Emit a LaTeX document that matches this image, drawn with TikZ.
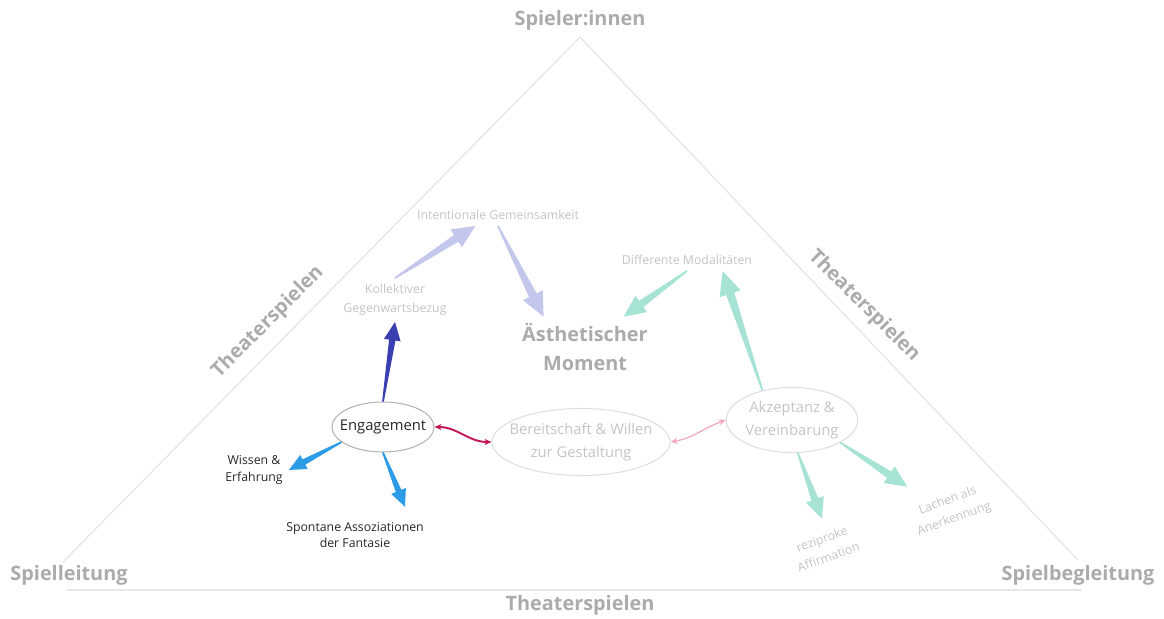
\documentclass[tikz,border=0pt]{standalone}
\usepackage{fontspec}
\setmainfont{Open Sans}
\usetikzlibrary{calc,shapes.geometric,arrows.meta}

\definecolor{labelgray}{HTML}{ABABAB}
\definecolor{softgray}{HTML}{C4C4C4}
\definecolor{linegray}{HTML}{DEDEDE}
\definecolor{darkblue}{HTML}{3A40B2}
\definecolor{lavender}{HTML}{C4C7EC}
\definecolor{skyblue}{HTML}{2D9CE6}
\definecolor{mint}{HTML}{A6E3D5}
\definecolor{crimson}{HTML}{C2185B}
\definecolor{rosa}{HTML}{F2A7BE}

% breiter Pfeil: Farbe, von, nach, Groesse
\newcommand{\fatarrow}[4]{%
  \coordinate (neck) at ($(#3)!13pt*#4!(#2)$);
  \fill[#1] ($(#2)!0.5pt!90:(#3)$) -- ($(neck)!2.3pt*#4!90:(#3)$)
    -- ($(neck)!6pt*#4!90:(#3)$) -- (#3)
    -- ($(neck)!6pt*#4!-90:(#3)$) -- ($(neck)!2.3pt*#4!-90:(#3)$)
    -- ($(#2)!0.5pt!-90:(#3)$) -- cycle;}

\begin{document}
\begin{tikzpicture}[x=0.02cm,y=-0.02cm,
  corner/.style={font=\bfseries\fontsize{11.3}{14}\selectfont,text=labelgray},
  note/.style={font=\fontsize{7}{11}\selectfont,text=softgray,align=center},
  dark/.style={font=\fontsize{7}{9.6}\selectfont,text=black!85,align=center},
  bubble/.style={ellipse,draw=linegray,line width=0.6pt,inner sep=0pt,align=center,
    font=\fontsize{8.4}{13}\selectfont,text=softgray},
  tip/.style={{Stealth[length=4pt,width=3.5pt]}-{Stealth[length=4pt,width=3.5pt]}}]

\useasboundingbox (0,0) rectangle (1164,619);

% Dreieck
\coordinate (top) at (580,37);
\coordinate (left) at (63,562);
\coordinate (right) at (1078,560);
\coordinate (bl) at (67,590);
\coordinate (br) at (1082,590);
\draw[linegray,line width=0.5pt] (left) -- (top) -- (right);
\draw[linegray!70,line width=1.2pt] (bl) -- (br);

\node[corner] (spieler) at (580,20) {Spieler:innen};
\node[corner] (leitung) at (69,575) {Spielleitung};
\node[corner] (begleitung) at (1078,575) {Spielbegleitung};
\node[corner] (unten) at (580,605) {Theaterspielen};
\node[corner,rotate=45] (links) at (268,322) {Theaterspielen};
\node[corner,rotate=-45] (rechts) at (864,306) {Theaterspielen};
\node[corner,align=center,font=\bfseries\fontsize{11.3}{17}\selectfont] (aest) at (585,347) {Ästhetischer\\Moment};

\node[note] (intent) at (498,215) {Intentionale Gemeinsamkeit};
\node[note] (koll) at (395,300) {Kollektiver\\Gegenwartsbezug};
\node[note] (diff) at (687,260) {Differente Modalitäten};
\node[note,rotate=20] (rez) at (825,548) {reziproke\\Affirmation};
\node[note,rotate=20] (lach) at (951,510) {Lachen als\\Anerkennung};
\node[dark] (wissen) at (254,470) {Wissen \&\\Erfahrung};
\node[dark] (spont) at (355,535) {Spontane Assoziationen\\der Fantasie};

\node[bubble,draw=gray!60,text=black!85,inner xsep=-4pt,minimum width=2cm,minimum height=1cm] (eng) at (383,427) {Engagement};
\node[bubble,inner xsep=-5pt,minimum width=3.56cm,minimum height=1.34cm] (ber) at (581,442) {Bereitschaft \& Willen\\zur Gestaltung};
\node[bubble,minimum width=2.62cm,minimum height=1.3cm] (akz) at (792,420) {Akzeptanz \&\\Vereinbarung};

\coordinate (intent-in) at ($(intent.south west)!0.37!(intent.south east)$);
\coordinate (aest-l) at ($(aest.north west)!0.2!(aest.north east)$);
\coordinate (aest-r) at ($(aest.north west)!0.78!(aest.north east)$);
\coordinate (diff-in) at ($(diff.south west)!0.75!(diff.south east)$);
\coordinate (spont-in) at ($(spont.north)+(50,-9)$);
\coordinate (rez-in) at ($(rez.north)+(4,-10)$);
\coordinate (lach-in) at ($(lach.north west)+(6,-18)$);

\fatarrow{darkblue}{eng.north}{koll.south}{0.8}
\fatarrow{lavender}{koll.north}{intent-in}{1}
\fatarrow{lavender}{intent.south}{aest-l}{1.05}
\fatarrow{mint}{diff.south}{aest-r}{0.95}
\fatarrow{mint}{akz.135}{diff-in}{1.05}
\fatarrow{skyblue}{eng.200}{wissen.east}{0.75}
\fatarrow{skyblue}{eng.south}{spont-in}{0.75}
\fatarrow{mint}{akz.-80}{rez-in}{0.9}
\fatarrow{mint}{akz.-25}{lach-in}{0.95}

\draw[tip,crimson,line width=1.1pt] (eng.east) to[out=0,in=180] (ber.west);
\draw[tip,rosa,line width=0.7pt] (ber.east) to[out=10,in=200] (akz.west);
\end{tikzpicture}
\end{document}
